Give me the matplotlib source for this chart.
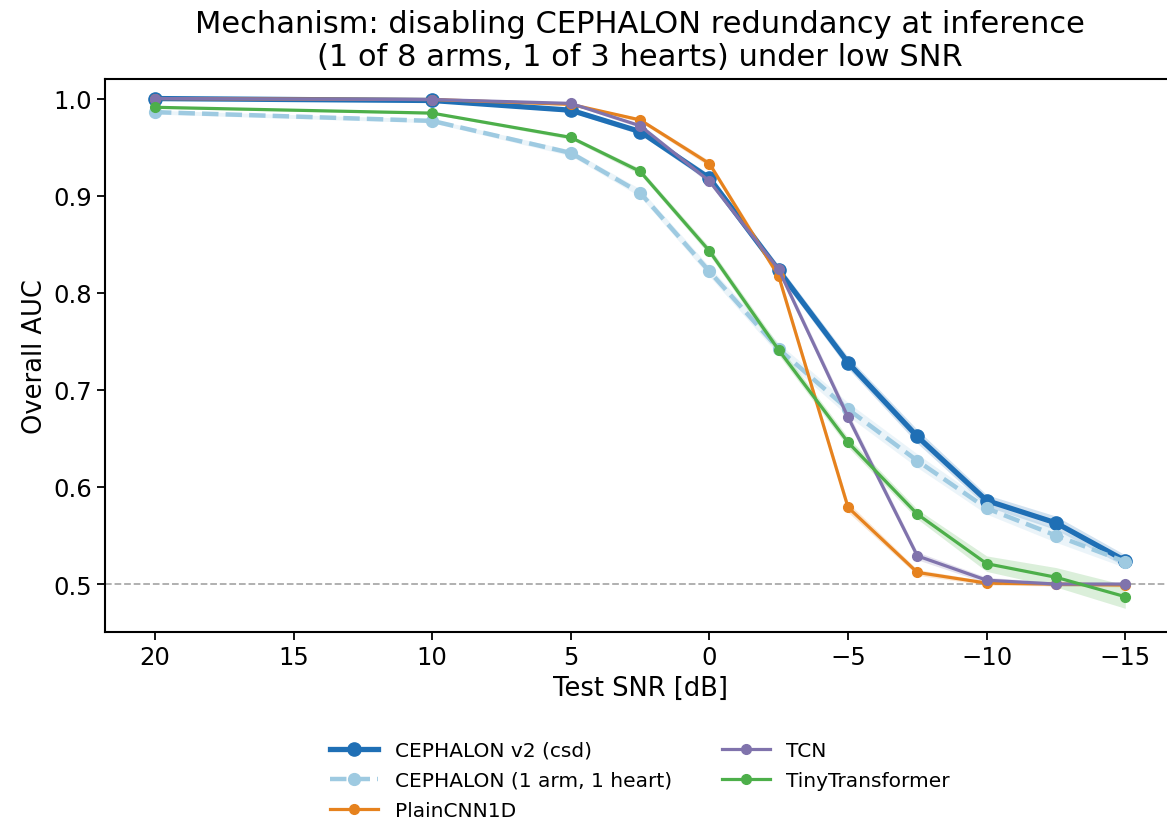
import matplotlib
matplotlib.use("Agg")
import matplotlib.pyplot as plt
import numpy as np

snr_db = [20, 10, 5, 2.5, 0, -2.5, -5, -7.5, -10, -12.5, -15]

auc_v2 = [1.000, 0.998, 0.988, 0.966, 0.918, 0.823, 0.728, 0.652, 0.586, 0.563, 0.524]
std_v2 = [0.001, 0.001, 0.002, 0.003, 0.004, 0.005, 0.006, 0.007, 0.006, 0.007, 0.006]

auc_single = [0.986, 0.977, 0.944, 0.903, 0.822, 0.742, 0.680, 0.627, 0.578, 0.550, 0.523]
std_single = [0.002, 0.002, 0.003, 0.004, 0.005, 0.006, 0.007, 0.007, 0.006, 0.007, 0.006]

auc_cnn = [1.000, 0.999, 0.994, 0.978, 0.933, 0.817, 0.579, 0.512, 0.501, 0.500, 0.499]
std_cnn = [0.000, 0.001, 0.001, 0.002, 0.003, 0.004, 0.005, 0.003, 0.002, 0.002, 0.002]

auc_tcn = [1.000, 0.999, 0.995, 0.972, 0.915, 0.824, 0.672, 0.529, 0.504, 0.500, 0.500]
std_tcn = [0.000, 0.001, 0.001, 0.002, 0.003, 0.004, 0.005, 0.004, 0.003, 0.002, 0.002]

auc_tiny = [0.991, 0.985, 0.960, 0.925, 0.843, 0.741, 0.646, 0.572, 0.521, 0.507, 0.487]
std_tiny = [0.001, 0.001, 0.002, 0.003, 0.004, 0.005, 0.005, 0.005, 0.008, 0.010, 0.012]

models = [
    ("CEPHALON v2 (csd)", auc_v2, std_v2, "#1f6fb5", "-", 3.8, 9.5),
    ("CEPHALON (1 arm, 1 heart)", auc_single, std_single, "#9ecae1", "--", 3.2, 8.5),
    ("PlainCNN1D", auc_cnn, std_cnn, "#e6821e", "-", 2.3, 7),
    ("TCN", auc_tcn, std_tcn, "#8073ac", "-", 2.3, 7),
    ("TinyTransformer", auc_tiny, std_tiny, "#4daf4a", "-", 2.3, 7),
]

fig = plt.figure(figsize=(11.67, 8.2), dpi=100)
ax = fig.add_axes([0.090, 0.228, 0.917, 0.6744])

x = np.array(snr_db)
for name, auc, std, color, ls, lw, ms in models:
    auc = np.array(auc)
    std = np.array(std)
    ax.fill_between(x, auc - std, auc + std, color=color, alpha=0.2, linewidth=0)
    ax.plot(x, auc, linestyle=ls, color=color, linewidth=lw, marker="o",
            markersize=ms, label=name)

ax.axhline(0.5, color="#aaaaaa", linestyle="--", linewidth=1.3, zorder=0)

ax.set_xlim(21.8, -16.8)
ax.set_ylim(0.4506, 1.0201)
ax.set_xticks([20, 15, 10, 5, 0, -5, -10, -15])
ax.set_yticks([0.5, 0.6, 0.7, 0.8, 0.9, 1.0])
ax.tick_params(labelsize=17.5, width=1.3, length=6)
for s in ax.spines.values():
    s.set_linewidth(1.5)

ax.set_xlabel("Test SNR [dB]", fontsize=18.5)
ax.set_ylabel("Overall AUC", fontsize=18.5)
ax.set_title("Mechanism: disabling CEPHALON redundancy at inference\n"
             "(1 of 8 arms, 1 of 3 hearts) under low SNR", fontsize=22, pad=10)

ax.legend(loc="upper center", bbox_to_anchor=(0.5, -0.164), ncol=2,
          frameon=False, fontsize=14.5, handlelength=2.4, columnspacing=2.5,
          labelspacing=0.55)

fig.savefig("out.png", dpi=100)
